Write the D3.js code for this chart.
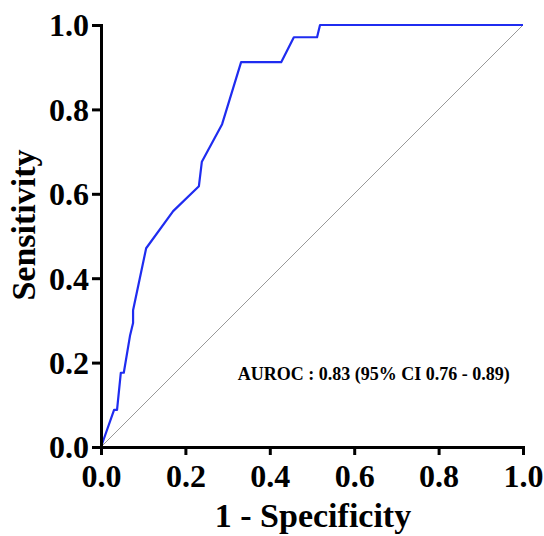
<!DOCTYPE html>
<html>
<head>
<meta charset="utf-8">
<script src="https://cdn.jsdelivr.net/npm/d3@7"></script>
<style>
  body { margin: 0; background: #fff; }
  svg text { font-family: "Liberation Serif", "Times New Roman", serif; font-weight: bold; }
</style>
</head>
<body>
<div id="chart"></div>
<script>
// ROC curve points (1 - specificity, sensitivity)
var fpr = [0, 0.031, 0.038, 0.047, 0.054, 0.069, 0.076, 0.076, 0.107, 0.171, 0.232, 0.239, 0.287, 0.332, 0.427, 0.457, 0.512, 0.519, 1.0]
var tpr = [0, 0.088, 0.088, 0.176, 0.176, 0.265, 0.294, 0.324, 0.471, 0.559, 0.618, 0.676, 0.765, 0.912, 0.912, 0.971, 0.971, 1.0, 1.0]
var ticks = [0, 0.2, 0.4, 0.6, 0.8, 1.0]
var aurocLabel = "AUROC : 0.83 (95% CI 0.76 - 0.89)"

var margin = {top: 25, right: 21, bottom: 89, left: 101},
    width = 544 - margin.left - margin.right,
    height = 536 - margin.top - margin.bottom;

var svg = d3.select("#chart")
  .append("svg")
    .attr("width", 544)
    .attr("height", 536)
  .append("g")
    .attr("transform", "translate(" + margin.left + "," + margin.top + ")");

var x = d3.scaleLinear().domain([0, 1]).range([0, width]);
var y = d3.scaleLinear().domain([0, 1]).range([height, 0]);

// reference diagonal
svg.append("line")
  .attr("x1", x(0)).attr("y1", y(0))
  .attr("x2", x(1)).attr("y2", y(1))
  .attr("stroke", "#999")
  .attr("stroke-width", 1);

// ROC line
var pts = fpr.map(function(d, i) { return [d, tpr[i]]; });
svg.append("path")
  .datum(pts)
  .attr("fill", "none")
  .attr("stroke", "#1f2cf0")
  .attr("stroke-width", 2.2)
  .attr("stroke-linejoin", "round")
  .attr("d", d3.line().x(function(d) { return x(d[0]); }).y(function(d) { return y(d[1]); }));

// axes
var xAxis = svg.append("g")
  .attr("transform", "translate(0," + height + ")")
  .call(d3.axisBottom(x).tickValues(ticks).tickFormat(d3.format(".1f")).tickSize(8).tickSizeOuter(0).tickPadding(9));
var yAxis = svg.append("g")
  .call(d3.axisLeft(y).tickValues(ticks).tickFormat(d3.format(".1f")).tickSize(9).tickSizeOuter(0).tickPadding(3));

[xAxis, yAxis].forEach(function(a) {
  a.select(".domain").attr("stroke", "#000").attr("stroke-width", 3).attr("stroke-linecap", "square");
  a.selectAll(".tick line").attr("stroke", "#000").attr("stroke-width", 3);
  a.selectAll(".tick text")
    .style("font-size", "32px")
    .style("font-family", "'Liberation Serif', serif")
    .style("font-weight", "bold")
    .attr("fill", "#000");
});
yAxis.selectAll(".tick text").attr("dy", "0.34em");

// axis titles
svg.append("text")
  .attr("x", width / 2 + 1)
  .attr("y", height + 80)
  .attr("text-anchor", "middle")
  .style("font-size", "34px")
  .text("1 - Specificity");

svg.append("text")
  .attr("transform", "translate(" + (-66) + "," + (height / 2 - 11) + ") rotate(-90)")
  .attr("text-anchor", "middle")
  .style("font-size", "34px")
  .text("Sensitivity");

// AUROC annotation
svg.append("text")
  .attr("x", x(0.324))
  .attr("y", y(0.158))
  .style("font-size", "18px")
  .text(aurocLabel);
</script>
</body>
</html>
